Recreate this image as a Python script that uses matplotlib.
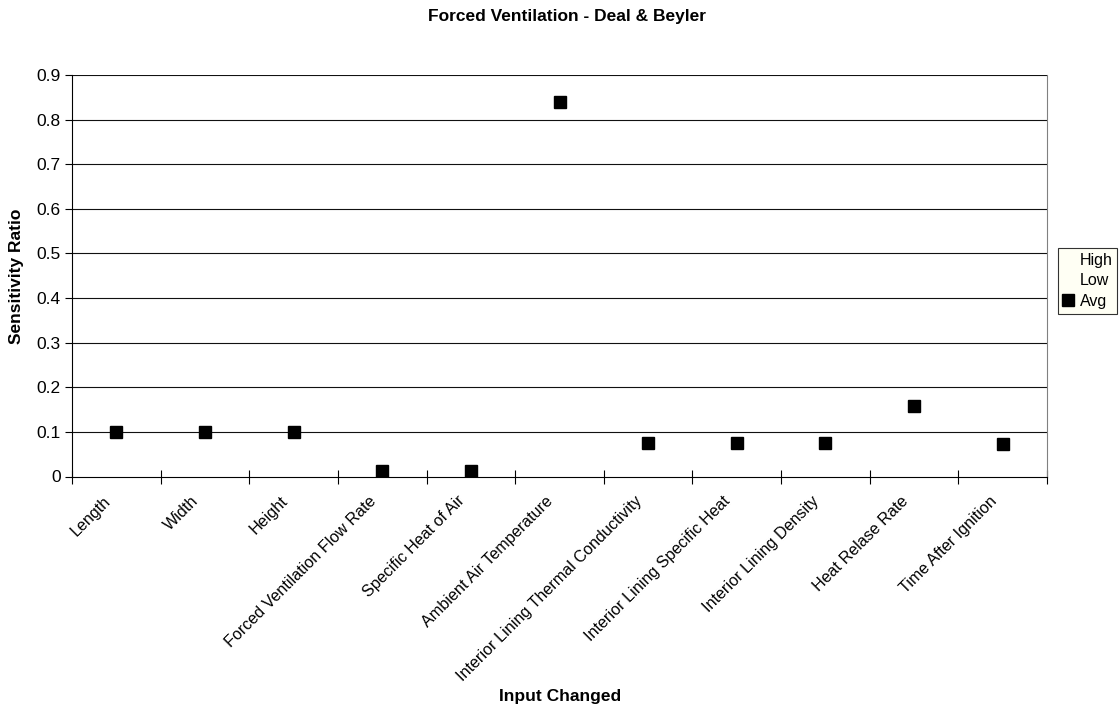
import matplotlib
matplotlib.use("Agg")
import matplotlib.pyplot as plt
from matplotlib.lines import Line2D
import numpy as np

categories = ["Length", "Width", "Height", "Forced Ventilation Flow Rate",
              "Specific Heat of Air", "Ambient Air Temperature",
              "Interior Lining Thermal Conductivity", "Interior Lining Specific Heat",
              "Interior Lining Density", "Heat Relase Rate", "Time After Ignition"]
avg = [0.099, 0.099, 0.099, 0.012, 0.012, 0.840, 0.074, 0.074, 0.074, 0.157, 0.072]
yticks = [0, 0.1, 0.2, 0.3, 0.4, 0.5, 0.6, 0.7, 0.8, 0.9]
ytick_labels = ["0", "0.1", "0.2", "0.3", "0.4", "0.5", "0.6", "0.7", "0.8", "0.9"]
legend_labels = ["High", "Low", "Avg"]

plt.rcParams['font.family'] = ['Liberation Sans', 'DejaVu Sans']
FS = 12.5
CAT_FS = 11.6

fig = plt.figure(figsize=(11.19, 7.11), dpi=100)
ax = fig.add_axes([72/1119, 1-476.5/711, (1047-72)/1119, (476.5-75)/711])

x = np.arange(len(categories))
ax.set_xlim(-0.5, len(categories) - 0.5)
ax.set_ylim(0, 0.9)

for y in yticks[1:]:
    ax.axhline(y, color='#111111', lw=0.8, zorder=1)

ax.plot(x, avg, linestyle='none', marker='s', markersize=8, color='black', zorder=3)

ax.set_yticks(yticks)
ax.set_yticklabels(ytick_labels, fontsize=FS)
ax.tick_params(axis='y', direction='out', length=5, width=0.8, pad=3)

ax.set_xticks(np.arange(len(categories) + 1) - 0.5)
ax.set_xticklabels([])
ax.tick_params(axis='x', direction='inout', length=10, width=0.8)
for i, c in enumerate(categories):
    ax.annotate(c, xy=(i, 0), xycoords='data', xytext=(-10, -12), textcoords='offset points',
                rotation=45, ha='right', va='top', rotation_mode='anchor', fontsize=CAT_FS)

ax.spines['top'].set_visible(False)
ax.spines['right'].set_color('#808080')
ax.spines['left'].set_linewidth(0.8)
ax.spines['bottom'].set_linewidth(0.8)

fig.text(567/1119, 1-16/711, "Forced Ventilation - Deal & Beyler", ha='center', va='center',
         fontsize=FS, fontweight='bold')
fig.text(17/1119, 1-276/711, "Sensitivity Ratio", rotation=90, ha='center', va='center',
         fontsize=FS, fontweight='bold')
fig.text(560/1119, 1-697/711, "Input Changed", ha='center', va='center',
         fontsize=FS, fontweight='bold')

handles = [Line2D([], [], linestyle='none', marker='none'),
           Line2D([], [], linestyle='none', marker='none'),
           Line2D([], [], linestyle='none', marker='s', color='black', markersize=8)]
leg = fig.legend(handles, legend_labels, loc='upper left',
                 bbox_to_anchor=(1058/1119, 1-248/711), fontsize=11.5, frameon=True,
                 fancybox=False, handlelength=0.7, handletextpad=0.35, borderpad=0.3,
                 labelspacing=0.35, borderaxespad=0)
leg.get_frame().set_edgecolor('black')
leg.get_frame().set_linewidth(0.8)
leg.get_frame().set_facecolor('#fffff2')

fig.savefig("out.png", dpi=100)
